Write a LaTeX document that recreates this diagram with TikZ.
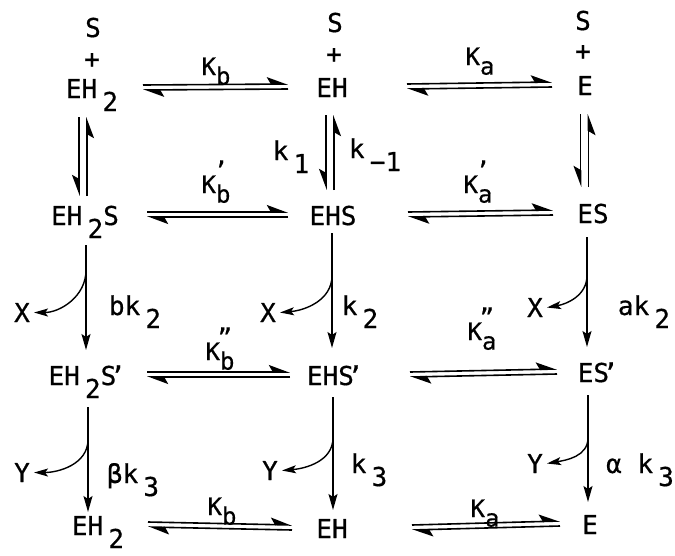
\documentclass[tikz,border=0pt]{standalone}
\usepackage{fontspec}
\usepackage{tikz}
\usetikzlibrary{arrows.meta, calc}
\newfontfamily\tyfont[FakeBold=0.6]{DejaVu Sans Mono}
\newcommand{\sub}[1]{\hspace{0.2em}\raisebox{-0.5em}{#1}}
\newcommand{\pr}{\hspace{-0.25em}’}
\newcommand{\kc}[2]{K\rlap{\hspace{-0.1em}\raisebox{0.6em}{#2}}\raisebox{-0.4em}{#1}}
% pair of harpoons, left node to right node
\newcommand{\eqh}[4]{%
  \draw[harp] ([shift={(#3,13pt)}]#1.base) -- ([shift={(-#4,13pt)}]#2.base);
  \draw[harp] ([shift={(-#4,8pt)}]#2.base) -- ([shift={(#3,8pt)}]#1.base);}
% pair of harpoons, top node to bottom node
\newcommand{\eqv}[6]{%
  \draw[harpv] ([shift={(#3-4pt,#4)}]#1.base) -- ([shift={(#5-4pt,#6)}]#2.base);
  \draw[harpv] ([shift={(#5+4pt,#6)}]#2.base) -- ([shift={(#3+4pt,#4)}]#1.base);}

\begin{document}
\begin{tikzpicture}[
    x=1pt, y=-1pt,
    font=\tyfont\fontsize{26}{30}\selectfont,
    species/.style={anchor=base, inner sep=0pt},
    ratelab/.style={anchor=base, inner sep=0pt},
    bigK/.style={anchor=base, inner sep=0pt, font=\tyfont\fontsize{24}{28}\selectfont},
    side/.style={anchor=base, inner sep=4pt},
    harp/.style={line width=1.6pt, -{Stealth[left, length=19pt, width=14pt, inset=4pt]}},
    harpv/.style={line width=1.6pt, -{Stealth[right, length=19pt, width=14pt, inset=4pt]}},
    fwd/.style={line width=1.6pt, -{Stealth[length=16pt, width=9pt, inset=3pt]}},
    branch/.style={line width=1.4pt, -{Stealth[length=14pt, width=8pt, inset=3pt]}},
  ]
  \useasboundingbox (0,0) rectangle (675,555);

  \node[species] (s1) at (93,37) {S};
  \node[species] (p1) at (92,68) {+};
  \node[species] (eh2a) at (92,98) {EH\sub{2}};
  \node[species] (s2) at (335,32) {S};
  \node[species] (p2) at (334,63) {+};
  \node[species] (eh) at (332,97) {EH};
  \node[species] (s3) at (583,30) {S};
  \node[species] (p3) at (583,60) {+};
  \node[species] (e) at (585,95) {E};

  \node[species] (eh2s) at (85,225) {EH\sub{2}S};
  \node[species] (ehs) at (333,225) {EHS};
  \node[species] (es) at (593,223) {ES};

  \node[species] (eh2sp) at (87,385) {EH\sub{2}S\pr};
  \node[species] (ehsp) at (335,385) {EHS\pr};
  \node[species] (esp) at (598,382) {ES\pr};

  \node[species] (eh2b) at (98,535) {EH\sub{2}};
  \node[species] (ehb) at (332,538) {EH};
  \node[species] (eb) at (590,534) {E};

  \node[bigK] (kb1) at (216,75) {\kc{b}{}};
  \node[bigK] (ka1) at (480,65) {\kc{a}{}};
  \node[bigK] (kb2) at (216,193) {\kc{b}{’}};
  \node[bigK] (ka2) at (478,193) {\kc{a}{’}};
  \node[bigK] (kb3) at (220,360) {\kc{b}{”}};
  \node[bigK] (ka3) at (482,340) {\kc{a}{”}};
  \node[bigK] (kb4) at (222,515) {\kc{b}{}};
  \node[bigK] (ka4) at (485,517) {\kc{a}{}};

  \node[ratelab] (k1) at (291,160) {k\sub{1}};
  \node[ratelab] (km1) at (375,158) {k\sub{−1}};
  \node[ratelab] (bk2) at (135,315) {bk\sub{2}};
  \node[ratelab] (k2) at (360,315) {k\sub{2}};
  \node[ratelab] (ak2) at (644,315) {ak\sub{2}};
  \node[ratelab] (bk3) at (133,483) {βk\sub{3}};
  \node[ratelab] (k3) at (369,473) {k\sub{3}};
  \node[ratelab] (ak3) at (640,473) {α k\sub{3}};

  \node[side] (x1) at (22,322) {X};
  \node[side] (x2) at (268,322) {X};
  \node[side] (x3) at (535,317) {X};
  \node[side] (y1) at (22,482) {Y};
  \node[side] (y2) at (270,480) {Y};
  \node[side] (y3) at (535,473) {Y};

  % equilibria
  \eqh{eh2a}{eh}{51pt}{44pt}
  \eqh{eh}{e}{75pt}{33pt}
  \eqh{eh2s}{ehs}{62pt}{45pt}
  \eqh{ehs}{es}{75pt}{40pt}
  \eqh{eh2sp}{ehsp}{60pt}{45pt}
  \eqh{ehsp}{esp}{75pt}{41pt}
  \eqh{eh2b}{ehb}{50pt}{40pt}
  \eqh{ehb}{eb}{80pt}{30pt}

  \eqv{eh2a}{eh2s}{-9pt}{-19pt}{-2pt}{29pt}
  \eqv{eh}{ehs}{-2pt}{-18pt}{-3pt}{35pt}
  \eqv{e}{es}{-0.5pt}{-19pt}{-8.5pt}{36pt}

  % irreversible steps
  \draw[fwd] ([shift={(1pt,-20pt)}]eh2s.base) -- coordinate[pos=0.24] (bx1) ([shift={(-1pt,35pt)}]eh2sp.base);
  \draw[fwd] ([shift={(-1pt,-8pt)}]ehs.base) -- coordinate[pos=0.37] (bx2) ([shift={(-3pt,37pt)}]ehsp.base);
  \draw[fwd] ([shift={(-6pt,-14pt)}]es.base) -- coordinate[pos=0.35] (bx3) ([shift={(-11pt,35pt)}]esp.base);
  \draw[fwd] ([shift={(1pt,-22pt)}]eh2sp.base) -- coordinate[pos=0.31] (by1) ([shift={(-10pt,23pt)}]eh2b.base);
  \draw[fwd] ([shift={(-2pt,-12pt)}]ehsp.base) -- coordinate[pos=0.36] (by2) ([shift={(1pt,28pt)}]ehb.base);
  \draw[fwd] ([shift={(-10pt,-13pt)}]esp.base) -- coordinate[pos=0.40] (by3) ([shift={(-2pt,32pt)}]eb.base);

  \draw[branch] (bx1) to[out=-90, in=0] (x1.east);
  \draw[branch] (bx2) to[out=-90, in=5] (x2.east);
  \draw[branch] (bx3) to[out=-90, in=10] (x3.east);
  \draw[branch] (by1) to[out=-90, in=0] (y1.east);
  \draw[branch] (by2) to[out=-90, in=5] (y2.east);
  \draw[branch] (by3) to[out=-90, in=10] (y3.east);
\end{tikzpicture}
\end{document}
